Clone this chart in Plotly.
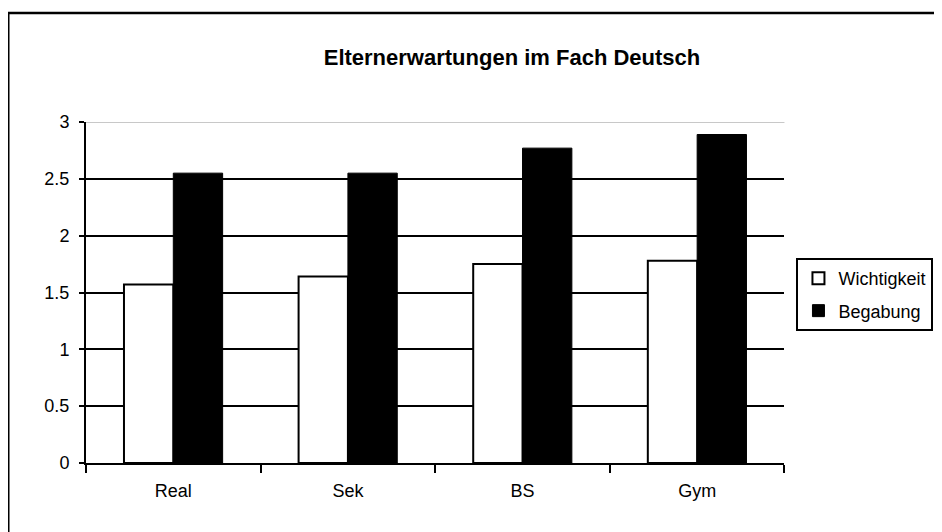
import plotly.graph_objects as go

# ── Data ───────────────────────────────────────────────────────────────
schulen = ["Real", "Sek", "BS", "Gym"]
wichtigkeit = [1.57, 1.64, 1.75, 1.78]
begabung = [2.55, 2.55, 2.77, 2.89]
y_ticks = [0, 0.5, 1, 1.5, 2, 2.5, 3]
y_labels = ["0", "0.5", "1", "1.5", "2", "2.5", "3"]

FONT = "Liberation Sans, Arial, sans-serif"

fig = go.Figure()

fig.add_trace(go.Bar(
    x=schulen, y=wichtigkeit,
    name="Wichtigkeit",
    legendgroup="w",
    marker=dict(color="white", line=dict(color="black", width=2)),
))

fig.add_trace(go.Bar(
    x=schulen, y=begabung,
    name="Begabung",
    legendgroup="b",
    marker=dict(color="black", line=dict(color="black", width=1)),
))

# outer chart frame (left/top edges visible, rest runs off the page)
fig.add_shape(
    type="rect", xref="paper", yref="paper",
    x0=-0.1113, x1=1.25, y0=-0.25, y1=1.32,
    line=dict(color="black", width=2.5),
    fillcolor="rgba(0,0,0,0)", layer="above",
)
# top gridline is drawn light grey in the original
fig.add_shape(
    type="line", xref="paper", yref="y",
    x0=0, x1=1, y0=3, y1=3,
    line=dict(color="#c8c8c8", width=2), layer="above",
)

fig.update_layout(
    title=dict(
        text="<b>Elternerwartungen im Fach Deutsch</b>",
        x=0.535, xref="container", xanchor="center",
        y=0.908, yref="container", yanchor="middle",
        font=dict(family=FONT, size=22, color="black"),
    ),
    width=942, height=532,
    margin=dict(l=78, r=163, t=114, b=77),
    paper_bgcolor="white",
    plot_bgcolor="white",
    font=dict(family=FONT, size=18, color="black"),
    barmode="group",
    bargap=0.435,
    bargroupgap=0,
    showlegend=True,
    legend=dict(
        xref="container", yref="container",
        x=0.837, xanchor="left", y=0.530, yanchor="top",
        bgcolor="white", bordercolor="black", borderwidth=2,
        traceorder="grouped", tracegroupgap=6,
        font=dict(family=FONT, size=18, color="black"),
        itemwidth=30,
    ),
)

fig.update_xaxes(
    showline=True, linecolor="black", linewidth=2,
    ticks="outside", tickson="boundaries", ticklen=8, tickwidth=2, tickcolor="black",
    ticklabelstandoff=10,
    showgrid=False,
)
fig.update_yaxes(
    range=[0, 3],
    tickvals=y_ticks, ticktext=y_labels,
    showline=True, linecolor="black", linewidth=2,
    ticks="outside", ticklen=5, tickwidth=2, tickcolor="black",
    ticklabelstandoff=6,
    showgrid=True, gridcolor="black", gridwidth=2,
    zeroline=False,
)

fig.write_html("out.html")
